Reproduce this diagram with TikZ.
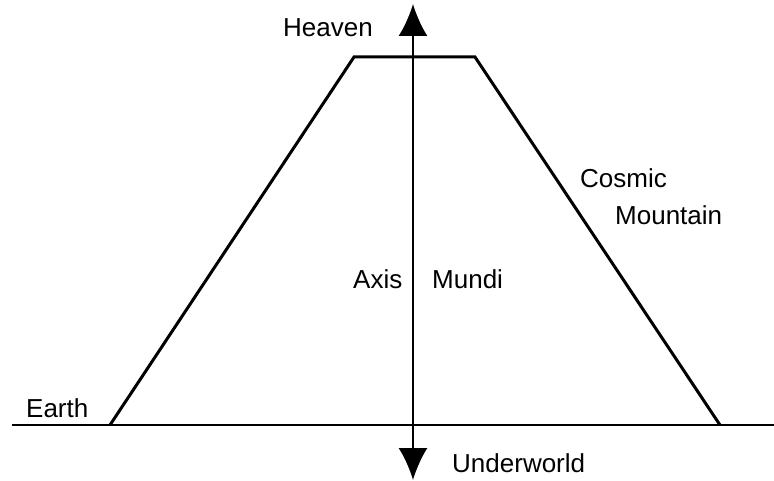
\documentclass[tikz,border=0pt]{standalone}
\usepackage{fontspec}
\setmainfont{Liberation Sans}
\usetikzlibrary{arrows.meta}
\begin{document}
\begin{tikzpicture}[x=1pt,y=-1pt,
  lbl/.style={anchor=base west,inner sep=0pt,font=\fontsize{26}{30}\selectfont},
  mount/.style={line width=3pt,line join=miter},
  ground/.style={line width=2pt},
  axisline/.style={line width=2.2pt,{Latex[length=32pt,width=29pt]}-{Latex[length=32pt,width=29pt]}}]
\useasboundingbox (0,0) rectangle (774,481);
\coordinate (gl) at (12,425);
\coordinate (gr) at (774,425);
\coordinate (bl) at (110,425);
\coordinate (tl) at (354,57);
\coordinate (tr) at (475,57);
\coordinate (br) at (720,425);
\coordinate (atop) at (413,4);
\coordinate (abot) at (413,480);
\draw[ground] (gl) -- (gr);
\draw[mount] (bl) -- (tl) -- (tr) -- (br);
\draw[axisline] (abot) -- (atop);
\node[lbl] (heaven) at (283,37) {Heaven};
\node[lbl] (under) at (452,472) {Underworld};
\node[lbl] (earth) at (26,417) {Earth};
\node[lbl] (axis) at (353,288) {Axis};
\node[lbl] (mundi) at (432,288) {Mundi};
\node[lbl] (cosmic) at (580,188) {Cosmic};
\node[lbl] (mountain) at (615,225) {Mountain};
\end{tikzpicture}
\end{document}
